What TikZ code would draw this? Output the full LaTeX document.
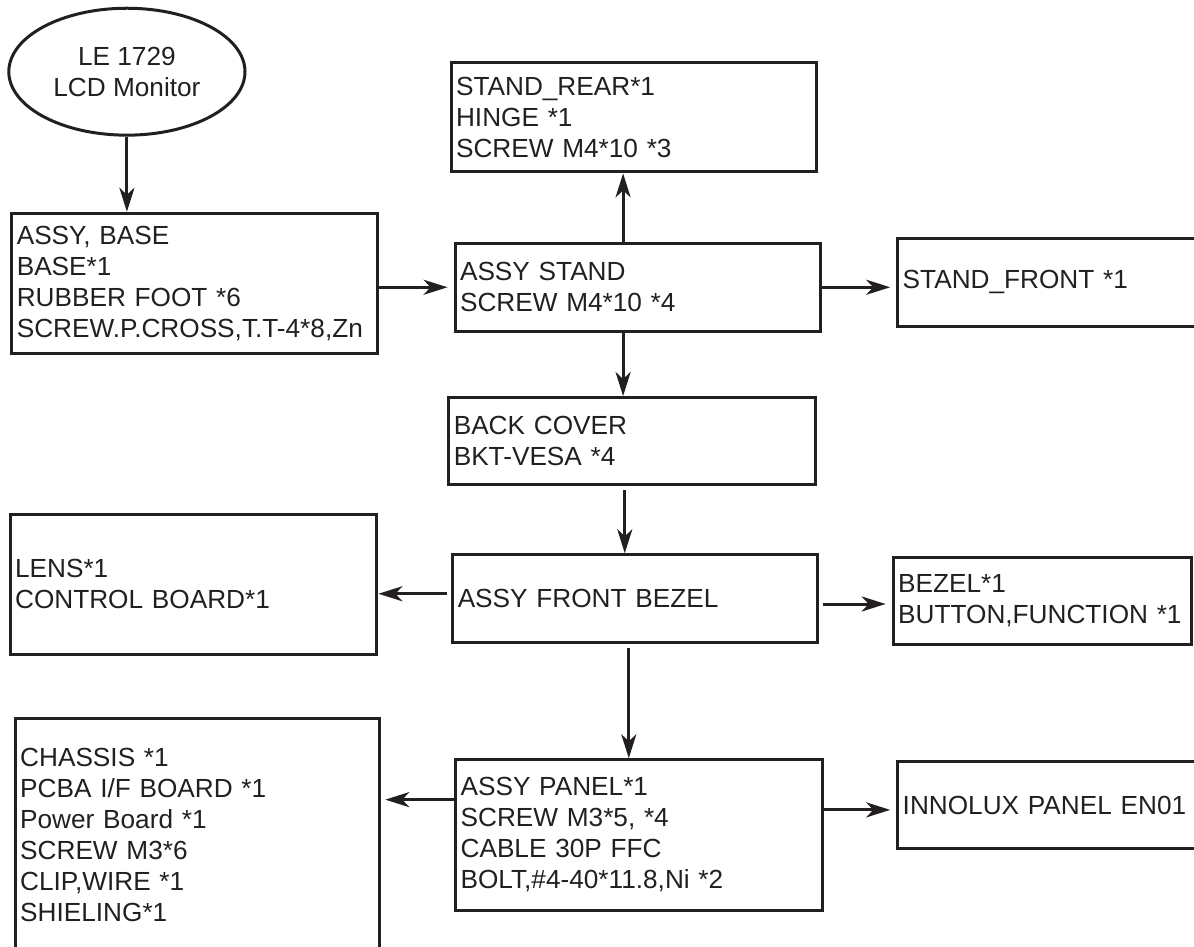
\documentclass[tikz,border=0pt]{standalone}
\usepackage{fontspec}
\setmainfont{Liberation Sans}
\usepackage{tikz}
\usetikzlibrary{
  shapes.geometric,
  arrows.meta,
  positioning, calc
}
\definecolor{inkblack}{RGB}{35,31,32}
\newcommand{\partfont}{\fontsize{13.1}{15.5}\selectfont}
\tikzset{
  basebox/.style={rectangle,draw=inkblack,line width=1.5pt,align=left,inner xsep=2.5pt,inner ysep=0pt,font=\partfont,text=inkblack},
  monnode/.style={ellipse,draw=inkblack,line width=1.5pt,align=center,font=\partfont,text=inkblack,minimum width=4.15cm,minimum height=2.23cm,inner sep=0pt},
  partbox/.style={basebox},
  arr/.style={->,>={Stealth[length=12pt,width=7.5pt,inset=3.5pt]},line width=1.5pt,color=inkblack}
}

\begin{document}
\begin{tikzpicture}[node distance=1.3cm and 1.3cm]
  \useasboundingbox (0,0) rectangle (20.98,-16.64);
  \node[monnode] (mon) at (2.23,-1.26) {LE 1729\\LCD Monitor};
  \node[partbox,text width=6.25cm,minimum height=2.46cm,below=1.32cm of mon,xshift=1.19cm] (base) {ASSY, BASE\\BASE*1\\RUBBER FOOT *6\\SCREW.P.CROSS,T.T-4*8,Zn};
  \node[partbox,text width=6.25cm,minimum height=1.55cm,right=1.31cm of base,yshift=-0.07cm] (stand) {ASSY STAND\\SCREW M4*10 *4};
  \node[partbox,text width=6.25cm,minimum height=1.92cm,above=1.20cm of stand,xshift=-0.07cm] (rear) {STAND\_REAR*1\\HINGE *1\\SCREW M4*10 *3};
  \node[partbox,text width=6.25cm,minimum height=1.55cm,right=1.30cm of stand,yshift=0.09cm] (front) {STAND\_FRONT *1};
  \node[partbox,text width=6.27cm,minimum height=1.53cm,below=1.11cm of stand,xshift=-0.10cm] (back) {BACK COVER\\BKT-VESA *4};
  \node[partbox,text width=6.23cm,minimum height=1.55cm,below=1.18cm of back,xshift=0.05cm] (bezel) {ASSY FRONT BEZEL};
  \node[partbox,text width=6.27cm,minimum height=2.46cm,left=1.28cm of bezel,yshift=0.26cm] (lens) {LENS*1\\CONTROL BOARD*1};
  \node[partbox,text width=5.06cm,minimum height=1.53cm,right=1.28cm of bezel,yshift=-0.03cm] (bezparts) {BEZEL*1\\BUTTON,FUNCTION *1};
  \node[partbox,text width=6.27cm,minimum height=2.64cm,below=2.0cm of bezel,xshift=0.07cm] (panel) {ASSY PANEL*1\\SCREW M3*5, *4\\CABLE 30P FFC\\BOLT,\#4-40*11.8,Ni *2};
  \node[partbox,text width=6.23cm,minimum height=4.08cm,left=1.28cm of panel] (chassis) {CHASSIS *1\\PCBA I/F BOARD *1\\Power Board *1\\SCREW M3*6\\CLIP,WIRE *1\\SHIELING*1};
  \node[partbox,text width=6.25cm,minimum height=1.53cm,right=1.27cm of panel,yshift=0.52cm] (innolux) {INNOLUX PANEL EN01};
  \draw[arr] (mon.south) -- (mon.south |- base.north);
  \draw[arr,shorten >=3pt] (base.east |- stand.west) -- (stand.west);
  \draw[arr] ([xshift=-0.26cm]stand.north) -- ([xshift=-0.26cm]stand.north |- rear.south);
  \draw[arr,shorten >=3pt] (stand.east) -- (stand.east -| front.west);
  \draw[arr] ([xshift=-0.26cm]stand.south) -- ([xshift=-0.26cm]stand.south |- back.north);
  \draw[arr,shorten <=2pt] ([xshift=-0.13cm]back.south) -- ([xshift=-0.13cm]back.south |- bezel.north);
  \draw[arr,shorten <=2pt] ([yshift=0.09cm]bezel.west) -- ([yshift=0.09cm]bezel.west -| lens.east);
  \draw[arr,shorten <=2pt,shorten >=3pt] ([yshift=-0.09cm]bezel.east) -- ([yshift=-0.09cm]bezel.east -| bezparts.west);
  \draw[arr,shorten <=2pt] ([xshift=-0.11cm]bezel.south) -- ([xshift=-0.11cm]bezel.south |- panel.north);
  \draw[arr,shorten >=2pt] ([yshift=0.62cm]panel.west) -- ([yshift=0.62cm]panel.west -| chassis.east);
  \draw[arr,shorten >=3pt] ([yshift=0.44cm]panel.east) -- ([yshift=0.44cm]panel.east -| innolux.west);
\end{tikzpicture}
\end{document}
